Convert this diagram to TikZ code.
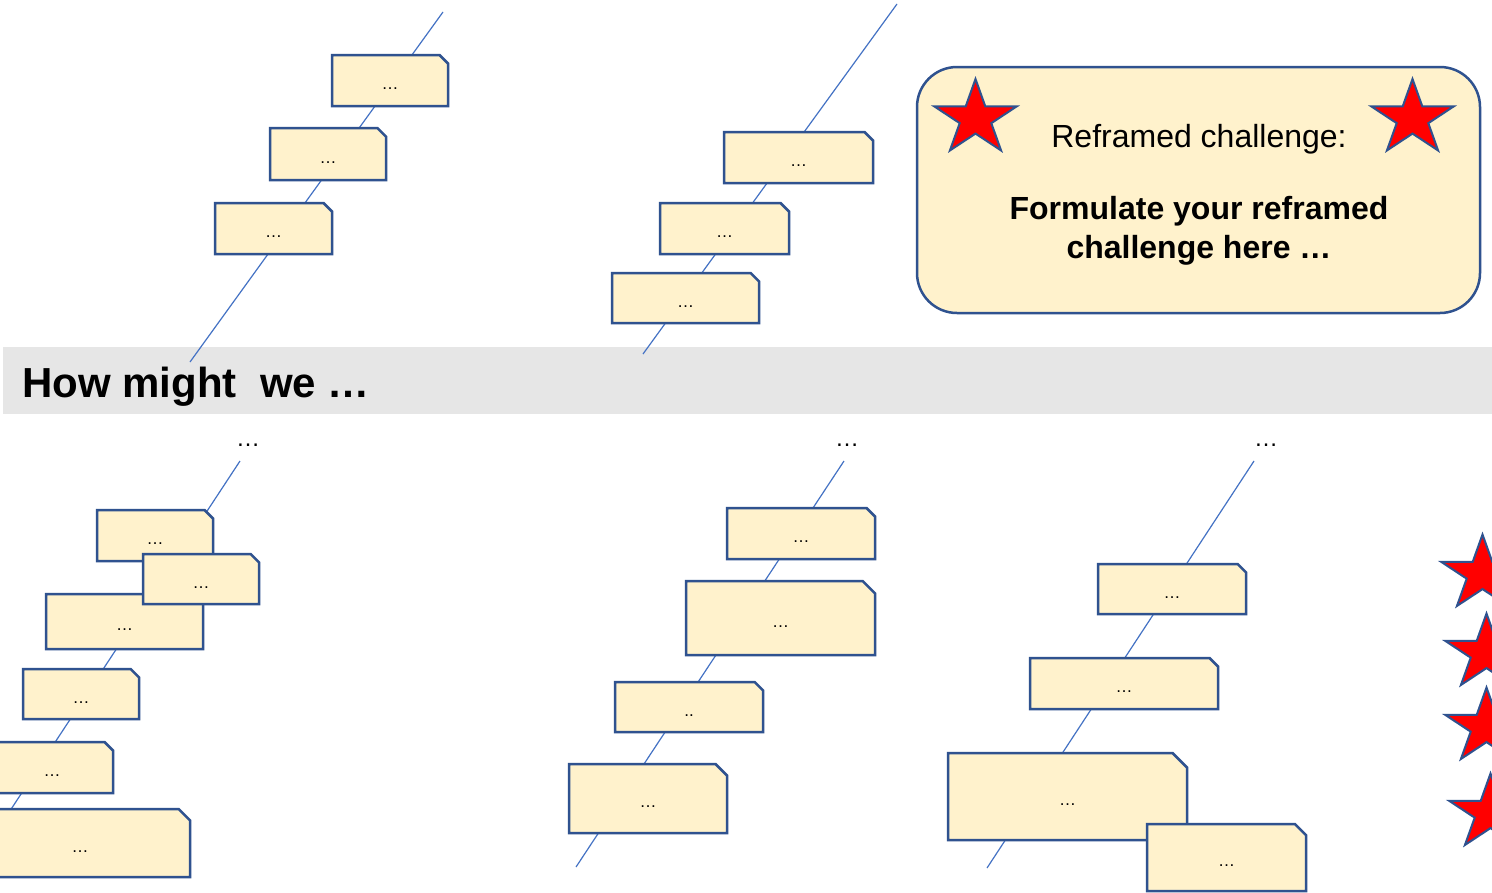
\documentclass[tikz,border=0pt]{standalone}
\usepackage{fontspec}
\setmainfont{Liberation Sans}
\definecolor{boxfill}{HTML}{FFF2CC}
\definecolor{boxline}{HTML}{2F528F}
\definecolor{spine}{HTML}{4472C4}
\definecolor{bannergray}{HTML}{E6E6E6}
\definecolor{starred}{HTML}{FF0000}
\tikzset{
  spineline/.style={draw=spine, line width=1.2pt},
  chbox/.style={fill=boxfill, draw=boxline, line width=2.5pt, line join=miter},
  boxlabel/.style={inner sep=0pt, font=\fontsize{17}{20}\selectfont, text height=18pt, text depth=0pt},
  grouplabel/.style={inner sep=0pt, font=\fontsize{24}{28}\selectfont, anchor=base},
  starstyle/.style={fill=starred, draw=boxline, line width=2pt, line join=miter},
  mystar/.pic={\filldraw[starstyle] (90:1) -- (126:.382) -- (162:1) -- (198:.382) -- (234:1) -- (270:.382) -- (306:1) -- (342:.382) -- (18:1) -- (54:.382) -- cycle;},
  bigtext/.style={anchor=base, inner sep=0pt, font=\fontsize{32}{38}\selectfont}
}
\newcommand\chamferbox[6]{%
  \pgfmathsetmacro\cbc{(#5-#3)/6}%
  \filldraw[chbox] (#2,#3) -- ({#4-\cbc},#3) -- (#4,{#3+\cbc}) -- (#4,#5) -- (#2,#5) -- cycle;
  \node[boxlabel] (#1) at ({(#2+#4)/2},{(#3+#5)/2}) {#6};
}
\begin{document}
\begin{tikzpicture}[x=1pt,y=-1pt]
\clip (0,0) rectangle (1492,892);
\fill[white] (0,0) rectangle (1492,892);

% reframed challenge panel
\node[draw=boxline, fill=boxfill, line width=2.5pt, rounded corners=40pt,
      minimum width=563pt, minimum height=246pt, inner sep=0pt] (reframe) at (1198.5,190) {};
\pic[xscale=43.5,yscale=-39.5] (starA) at (975.5,118.5) {mystar};
\pic[xscale=43.5,yscale=-39.5] (starB) at (1412.5,118.5) {mystar};
\node[bigtext] (rc) at (1199,147) {Reframed challenge:};
\node[bigtext, font=\fontsize{32}{38}\selectfont\bfseries] (rf1) at (1199,219) {Formulate your reframed};
\node[bigtext, font=\fontsize{32}{38}\selectfont\bfseries] (rf2) at (1199,258) {challenge here …};

% banner
\node[fill=bannergray, minimum width=1489pt, minimum height=67pt, inner sep=0pt, anchor=north west] (banner) at (3,347) {};
\node[anchor=base west, inner sep=0pt, font=\fontsize{42}{50}\selectfont\bfseries] (hmw) at (22,397) {How might\ \ we …};

% spines
\coordinate (tl1) at (443,12);  \coordinate (tl2) at (190,362);
\coordinate (tm1) at (897,4);   \coordinate (tm2) at (643,354);
\coordinate (bl1) at (240,461); \coordinate (bl2) at (0,826);
\coordinate (bm1) at (844,461); \coordinate (bm2) at (576,867);
\coordinate (br1) at (1254,461);\coordinate (br2) at (987,868);
\draw[spineline] (tl1) -- (tl2);
\draw[spineline] (tm1) -- (tm2);
\draw[spineline] (bl1) -- (bl2);
\draw[spineline] (bm1) -- (bm2);
\draw[spineline] (br1) -- (br2);

% top-left group
\chamferbox{tlA}{332}{55}{448}{106}{…}
\chamferbox{tlB}{270}{128}{386}{180}{…}
\chamferbox{tlC}{215}{203}{332}{254}{…}

% top-middle group
\chamferbox{tmA}{724}{132}{873}{183}{…}
\chamferbox{tmB}{660}{203}{789}{254}{…}
\chamferbox{tmC}{612}{273}{759}{323}{…}

% bottom-left group
\node[grouplabel] (blT) at (248,446) {…};
\chamferbox{blA}{97}{510}{213}{561}{…}
\chamferbox{blC}{46}{594}{203}{649}{…}
\chamferbox{blB}{143}{554}{259}{604}{…}
\chamferbox{blD}{23}{669}{139}{719}{…}
\chamferbox{blE}{-9}{742}{113}{793}{…}
\chamferbox{blF}{-30}{809}{190}{877}{…}

% bottom-middle group
\node[grouplabel] (bmT) at (847,446) {…};
\chamferbox{bmA}{727}{508}{875}{559}{…}
\chamferbox{bmB}{686}{581}{875}{655}{…}
\chamferbox{bmC}{615}{682}{763}{732}{..}
\chamferbox{bmD}{569}{764}{727}{833}{…}

% bottom-right group
\node[grouplabel] (brT) at (1266,446) {…};
\chamferbox{brA}{1098}{564}{1246}{614}{…}
\chamferbox{brB}{1030}{658}{1218}{709}{…}
\chamferbox{brC}{948}{753}{1187}{840}{…}
\chamferbox{brD}{1147}{824}{1306}{891}{…}

% right-edge stars
\pic[xscale=43.5,yscale=-39.5] (starC) at (1482.5,574) {mystar};
\pic[xscale=43.5,yscale=-39.5] (starD) at (1486.5,653) {mystar};
\pic[xscale=43.5,yscale=-39.5] (starE) at (1486.5,727) {mystar};
\pic[xscale=43.5,yscale=-39.5] (starF) at (1490.5,813) {mystar};
\end{tikzpicture}
\end{document}
